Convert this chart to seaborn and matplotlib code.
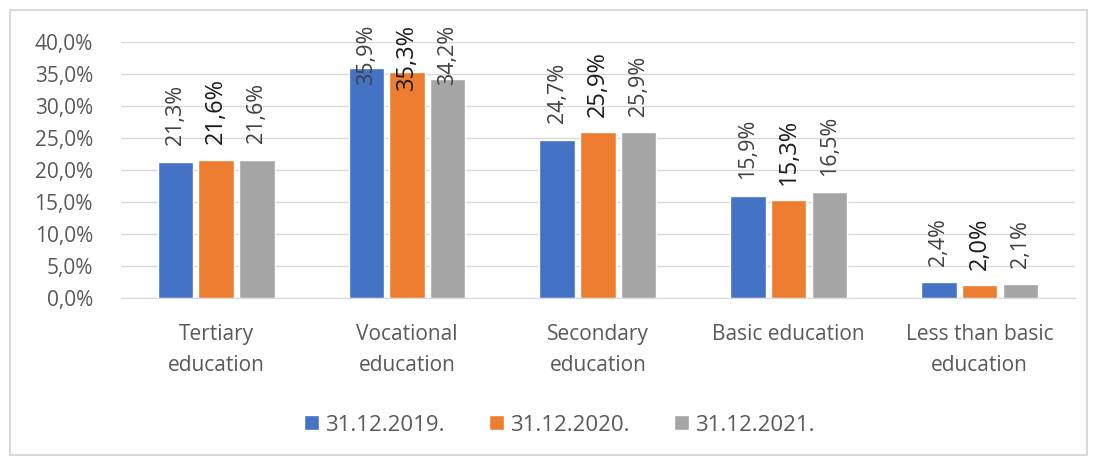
import pandas as pd
import numpy as np
import matplotlib.pyplot as plt
import seaborn as sns
from matplotlib.patches import Rectangle

# --- data ---
categories = ["Tertiary\neducation", "Vocational\neducation", "Secondary\neducation",
              "Basic education", "Less than basic\neducation"]
series_names = ["31.12.2019.", "31.12.2020.", "31.12.2021."]
vals_2019 = [21.3, 35.9, 24.7, 15.9, 2.4]
vals_2020 = [21.6, 35.3, 25.9, 15.3, 2.0]
vals_2021 = [21.6, 34.2, 25.9, 16.5, 2.1]

colors = ["#4472C4", "#ED7D31", "#A5A5A5"]

df = pd.DataFrame({
    "cat": categories * 3,
    "series": np.repeat(series_names, len(categories)),
    "value": vals_2019 + vals_2020 + vals_2021,
})

sns.set_style("white")
plt.rcParams["font.family"] = ["Open Sans", "DejaVu Sans"]

fig = plt.figure(figsize=(10.97, 4.61), dpi=100)
ax = fig.add_axes([0.110, 0.354, 0.870, 0.555])

sns.barplot(data=df, x="cat", y="value", hue="series", palette=colors,
            width=0.64, gap=0.13, saturation=1, ax=ax, legend=True)

ax.set_ylim(0, 40)
ax.set_xlim(-0.5, len(categories) - 0.5)
ax.set_yticks(np.arange(0, 41, 5))
ax.set_yticklabels([f"{t:.1f}%".replace(".", ",") for t in np.arange(0, 41, 5)])
ax.yaxis.grid(True, color="#d9d9d9", lw=1)
ax.set_axisbelow(True)
for s in ["top", "right", "left"]:
    ax.spines[s].set_visible(False)
ax.spines["bottom"].set_color("#d9d9d9")
ax.tick_params(axis="y", length=0, pad=20, labelsize=15, labelcolor="#595959")
ax.tick_params(axis="x", length=0, pad=19, labelsize=15, labelcolor="#595959")
for lbl in ax.get_xticklabels():
    lbl.set_linespacing(1.6)
ax.set_xlabel("")
ax.set_ylabel("")

# value labels, rotated; pushed down when they would leave the chart area
for i, cont in enumerate(ax.containers):
    for bar in cont:
        v = bar.get_height()
        x = bar.get_x() + bar.get_width() / 2
        txt = f"{v:.1f}%".replace(".", ",")
        if i == 1:
            y = min(v + 2.4, 32.5)
            ax.text(x, y, txt, rotation=90, ha="center", va="bottom",
                    fontsize=17, color="#1a1a1a", clip_on=False)
        else:
            y = min(v + 2.6, 33.3)
            ax.text(x, y, txt, rotation=90, ha="center", va="bottom",
                    fontsize=15.5, color="#404040", clip_on=False)

handles, labels = ax.get_legend_handles_labels()
ax.get_legend().remove()
fig.legend(handles, labels, loc="center", bbox_to_anchor=(0.51, 0.078), ncol=3,
           frameon=False, fontsize=16, labelcolor="#595959", handlelength=0.65,
           handleheight=0.65, handletextpad=0.3, columnspacing=2.0)

# light outer frame like the chart area border
fig.patches.append(Rectangle((0.009, 0.012), 0.982, 0.967, transform=fig.transFigure,
                             fill=False, edgecolor="#d9d9d9", lw=1.5))

fig.savefig("out.png", dpi=100)
